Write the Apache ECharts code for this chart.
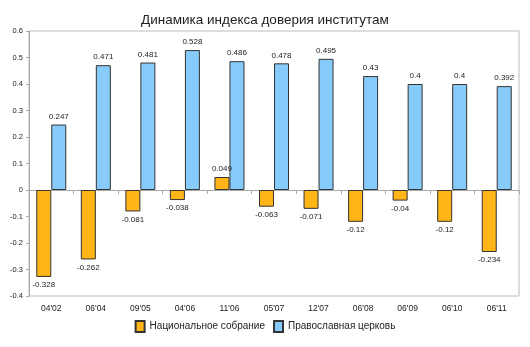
<!DOCTYPE html>
<html><head><meta charset="utf-8">
<script src="https://cdn.jsdelivr.net/npm/echarts@6/dist/echarts.min.js"></script>
<style>html,body{margin:0;padding:0;background:#fff}#c{width:530px;height:347px}</style>
</head><body><div id="c"></div>
<script>
const categories = ["04'02","06'04","09'05","04'06","11'06","05'07","12'07","06'08","06'09","06'10","06'11"];
const national = [-0.328,-0.262,-0.081,-0.038,0.049,-0.063,-0.071,-0.12,-0.04,-0.12,-0.234];
const church = [0.247,0.471,0.481,0.528,0.486,0.478,0.495,0.43,0.4,0.4,0.392];
const seriesNames = ['Национальное собрание','Православная церковь'];
const titleText = 'Динамика индекса доверия институтам';

const chart = echarts.init(document.getElementById('c'));
const font = 'Liberation Sans';
const lbl = {show:true, position:'outside', fontSize:8, color:'#222', fontFamily:font, distance:4,
  formatter: p => String(p.value)};
chart.setOption({
  animation:false,
  title:{text:titleText, left:'center', top:8, textStyle:{fontSize:13.5, fontWeight:'normal', color:'#222', fontFamily:font}},
  grid:{left:29, right:11, top:31, bottom:51, show:true, borderColor:'#bbb', borderWidth:1},
  legend:{bottom:9, left:'center', itemWidth:9, itemHeight:11, itemGap:8,
    textStyle:{fontSize:10, color:'#222', fontFamily:font},
    data:seriesNames.map(n=>({name:n, icon:'rect'}))},
  xAxis:{type:'category', data:categories,
    axisLine:{lineStyle:{color:'#aaa'}}, axisTick:{show:true, alignWithLabel:false, length:4, lineStyle:{color:'#aaa'}},
    axisLabel:{fontSize:8.5, color:'#222', fontFamily:font, margin:8}},
  yAxis:{type:'value', min:-0.4, max:0.6, interval:0.1,
    axisLine:{show:true, lineStyle:{color:'#aaa'}}, axisTick:{show:true, length:3, lineStyle:{color:'#aaa'}},
    splitLine:{show:false},
    axisLabel:{fontSize:7.5, color:'#222', fontFamily:font, margin:6,
      formatter: v => { const r = Math.round(v*10)/10; return r===0 ? '0' : String(r); }}},
  series:[
    {name:seriesNames[0], type:'bar', data:national, barWidth:15, barGap:'0%',
      itemStyle:{color:'#ffb418', borderColor:'#333', borderWidth:1}, label:lbl},
    {name:seriesNames[1], type:'bar', data:church, barWidth:15,
      itemStyle:{color:'#87cbfb', borderColor:'#333', borderWidth:1}, label:lbl}
  ]
});
</script></body></html>
